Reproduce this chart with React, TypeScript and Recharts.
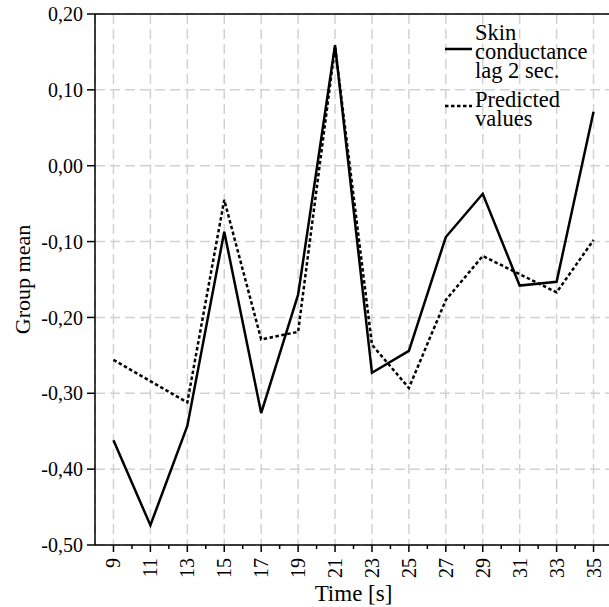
import React from "react";
import {
  LineChart,
  Line,
  XAxis,
  YAxis,
  CartesianGrid,
  Legend,
  ReferenceLine,
} from "recharts";

const FONT = '"Liberation Serif", "Times New Roman", serif';

// time points (s)
const TIMES = [9, 11, 13, 15, 17, 19, 21, 23, 25, 27, 29, 31, 33, 35];
// group means, skin conductance lagged 2 s
const SKIN = [
  -0.362, -0.474, -0.343, -0.087, -0.326, -0.17, 0.159, -0.273, -0.244,
  -0.094, -0.037, -0.158, -0.153, 0.071,
];
// predicted values
const PREDICTED = [
  -0.256, -0.284, -0.312, -0.045, -0.229, -0.219, 0.157, -0.236, -0.293,
  -0.177, -0.119, -0.143, -0.167, -0.098,
];
const Y_TICKS = [-0.5, -0.4, -0.3, -0.2, -0.1, 0, 0.1, 0.2];
// every second is a minor tick between the labelled ones
const X_TICKS = Array.from({ length: 27 }, (_, i) => 9 + i);

const data = TIMES.map((t, i) => ({
  time: t,
  skin: SKIN[i],
  predicted: PREDICTED[i],
}));

const fmt = (v: number) => v.toFixed(2).replace(".", ",");

function XTick(props: any) {
  const { x, y, payload } = props;
  const v = payload.value;
  const major = v % 2 === 1;
  return (
    <g>
      <line
        x1={x}
        x2={x}
        y1={y}
        y2={y + (major ? 7 : 4)}
        stroke="#000"
        strokeWidth={1.5}
      />
      {major && (
        <text
          transform={`translate(${x},${y + 13}) rotate(-90)`}
          textAnchor="end"
          dy="0.35em"
          fill="#000"
          fontSize={20}
          fontFamily={FONT}
        >
          {v}
        </text>
      )}
    </g>
  );
}

function YTitle(props: any) {
  const { viewBox } = props;
  const cx = (viewBox?.x ?? 0) + 22;
  const cy = (viewBox?.y ?? 0) + (viewBox?.height ?? 0) / 2;
  return (
    <text
      x={cx}
      y={cy}
      transform={`rotate(-90 ${cx} ${cy})`}
      textAnchor="middle"
      dy="0.35em"
      fill="#000"
      fontSize={22}
      fontFamily={FONT}
    >
      Group mean
    </text>
  );
}

function LegendBox(props: any) {
  const items = props.payload || [];
  return (
    <div style={{ fontFamily: FONT, fontSize: 22.5, lineHeight: "19px", color: "#000" }}>
      {items.map((it: any, i: number) => (
        <div
          key={i}
          style={{ display: "flex", alignItems: "center", marginBottom: 10 }}
        >
          <svg width={30} height={8} style={{ flex: "none", marginTop: -6 }}>
            <line
              x1={0}
              x2={27}
              y1={4}
              y2={4}
              stroke="#000"
              strokeWidth={2.5}
              strokeDasharray={it.payload?.strokeDasharray}
            />
          </svg>
          <div style={{ width: 124 }}>{it.value}</div>
        </div>
      ))}
    </div>
  );
}

export default function App() {
  return (
    <div
      style={{
        position: "absolute",
        left: 0,
        top: 0,
        width: 609,
        height: 607,
        overflow: "hidden",
        background: "#fff",
      }}
    >
      <LineChart
        width={620}
        height={607}
        data={data}
        margin={{ top: 14, right: 8, bottom: 0, left: 0 }}
      >
        <XAxis
          xAxisId="grid"
          dataKey="time"
          type="number"
          domain={[8, 36]}
          ticks={TIMES}
          interval={0}
          hide
        />
        <CartesianGrid
          xAxisId="grid"
          stroke="#d2d2d2"
          strokeWidth={1.5}
          strokeDasharray="10 5"
        />
        <XAxis
          dataKey="time"
          type="number"
          domain={[8, 36]}
          ticks={X_TICKS}
          interval={0}
          height={62}
          tickLine={false}
          tickSize={0}
          tickMargin={0}
          tick={<XTick />}
          axisLine={{ stroke: "#000", strokeWidth: 1.5 }}
          label={{
            value: "Time [s]",
            position: "insideBottom",
            offset: 6,
            fill: "#000",
            fontSize: 23,
            fontFamily: FONT,
          }}
        />
        <YAxis
          type="number"
          domain={[-0.5, 0.2]}
          ticks={Y_TICKS}
          interval={0}
          width={95}
          tickSize={8}
          tickMargin={4}
          tickFormatter={fmt}
          tick={{ fill: "#000", fontSize: 20, fontFamily: FONT }}
          tickLine={{ stroke: "#000", strokeWidth: 1.5 }}
          axisLine={{ stroke: "#000", strokeWidth: 1.5 }}
          label={<YTitle />}
        />
        <ReferenceLine y={0.2} stroke="#000" strokeWidth={1.5} />
        <Legend
          layout="vertical"
          align="center"
          verticalAlign="middle"
          itemSorter={(it: any) => (it.dataKey === "skin" ? 0 : 1)}
          content={<LegendBox />}
          wrapperStyle={{ left: 445, top: 23, width: 164 }}
        />
        <Line
          type="linear"
          dataKey="skin"
          name="Skin conductance lag 2 sec."
          stroke="#000"
          strokeWidth={2.5}
          dot={false}
          activeDot={false}
          isAnimationActive={false}
        />
        <Line
          type="linear"
          dataKey="predicted"
          name="Predicted values"
          stroke="#000"
          strokeWidth={2.5}
          strokeDasharray="3.5 2.5"
          dot={false}
          activeDot={false}
          isAnimationActive={false}
        />
      </LineChart>
    </div>
  );
}
